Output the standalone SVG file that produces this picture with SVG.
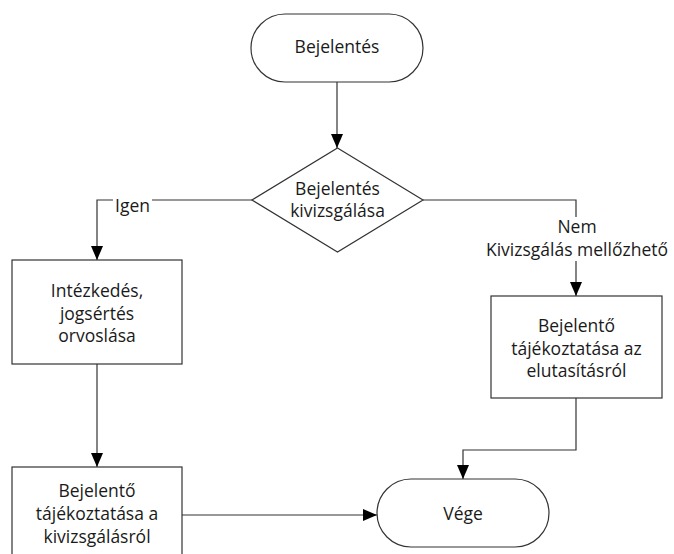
<svg xmlns="http://www.w3.org/2000/svg" width="674" height="554" viewBox="0 0 674 554">
<style>
.shape{fill:#fff;stroke:#333;stroke-width:1.2}
.conn{fill:none;stroke:#333;stroke-width:1.2}
text{font-family:"Open Sans","Noto Sans",sans-serif;font-size:17.5px;fill:#1a1a1a;text-anchor:middle}
.bg{fill:#fff;stroke:none}
</style>
<defs>
<marker id="arr" markerUnits="userSpaceOnUse" markerWidth="14" markerHeight="12" refX="14" refY="6" orient="auto">
<path d="M0,0 L14,6 L0,12 z" fill="#000"/>
</marker>
</defs>
<rect width="674" height="554" fill="#fff"/>
<g id="connectors">
<path class="conn" d="M337,82 V148" marker-end="url(#arr)"/>
<path class="conn" d="M252,200 H97 V260" marker-end="url(#arr)"/>
<path class="conn" d="M423,200 H576 V296" marker-end="url(#arr)"/>
<path class="conn" d="M97,364 V467" marker-end="url(#arr)"/>
<path class="conn" d="M182,515 H377" marker-end="url(#arr)"/>
<path class="conn" d="M576,398 V450 H463 V479" marker-end="url(#arr)"/>
<rect class="bg" x="113" y="194" width="39" height="12"/>
<text x="132.5" y="212">Igen</text>
<rect class="bg" x="480" y="217" width="194" height="44"/>
<text x="577" y="233">Nem</text>
<text x="577" y="256">Kivizsgálás mellőzhető</text>
</g>
<g id="start">
<rect class="shape" x="251" y="14" width="172" height="68" rx="34" ry="34"/>
<text x="337" y="53">Bejelentés</text>
</g>
<g id="decision">
<path class="shape" d="M337.5,148 L423,200 L337.5,252 L252,200 z"/>
<text x="337.5" y="195">Bejelentés</text>
<text x="337.5" y="217">kivizsgálása</text>
</g>
<g id="action">
<rect class="shape" x="12" y="260" width="170" height="104"/>
<text x="97" y="297">Intézkedés,</text>
<text x="97" y="319.5">jogsértés</text>
<text x="97" y="342">orvoslása</text>
</g>
<g id="inform-yes">
<rect class="shape" x="12" y="467" width="170" height="104"/>
<text x="97" y="497">Bejelentő</text>
<text x="97" y="520">tájékoztatása a</text>
<text x="97" y="543">kivizsgálásról</text>
</g>
<g id="inform-no">
<rect class="shape" x="491" y="296" width="171" height="102"/>
<text x="576.5" y="332">Bejelentő</text>
<text x="576.5" y="354.5">tájékoztatása az</text>
<text x="576.5" y="377">elutasításról</text>
</g>
<g id="end">
<rect class="shape" x="377" y="479" width="172" height="68" rx="34" ry="34"/>
<text x="463" y="520">Vége</text>
</g>
</svg>
